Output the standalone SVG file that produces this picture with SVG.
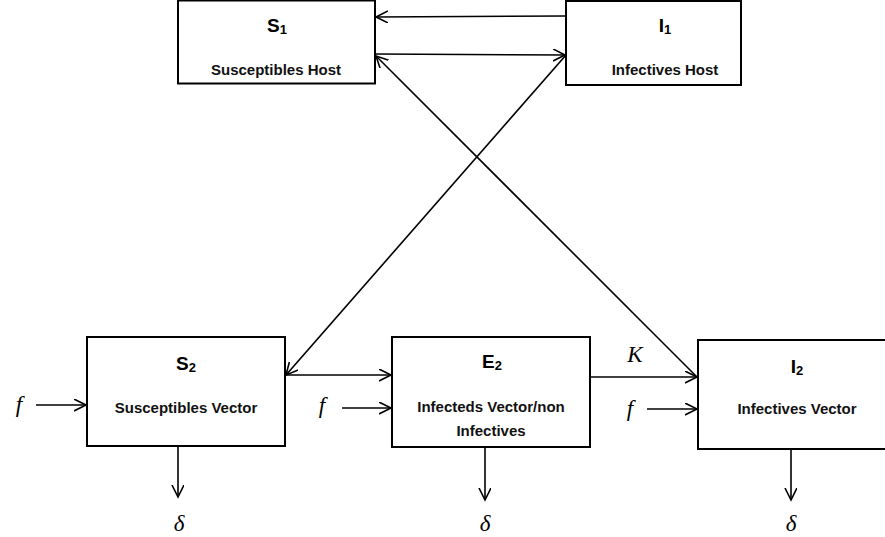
<svg xmlns="http://www.w3.org/2000/svg" width="885" height="537" viewBox="0 0 885 537">
<style>
.box{fill:#fff;stroke:#000;stroke-width:2}
.t{font-family:"Liberation Sans",Arial,sans-serif;font-weight:bold;font-size:15px;text-anchor:middle;fill:#111}
.h{font-family:"Liberation Sans",Arial,sans-serif;font-weight:bold;font-size:19px;text-anchor:middle;fill:#000}
.sub{font-size:13px}
.m{font-family:"Liberation Serif","Times New Roman",serif;font-style:italic;font-size:23px;text-anchor:middle;fill:#000}
.c{fill:none;stroke:#000;stroke-width:1.6;marker-end:url(#ah)}
</style>
<defs>
<marker id="ah" markerUnits="userSpaceOnUse" markerWidth="14" markerHeight="14" refX="12" refY="6" orient="auto">
<path d="M0,0 L12,6 L0,12" fill="none" stroke="#000" stroke-width="1.6"/>
</marker>
</defs>
<rect width="885" height="537" fill="#fff"/>
<g id="S1">
<rect class="box" x="178" y="0.5" width="197" height="83"/>
<text class="h" x="277" y="32">S<tspan class="sub" dy="2">1</tspan></text>
<text class="t" x="276" y="75">Susceptibles Host</text>
</g>
<g id="I1">
<rect class="box" x="566" y="1" width="175" height="84"/>
<text class="h" x="665" y="32">I<tspan class="sub" dy="2">1</tspan></text>
<text class="t" x="665" y="75">Infectives Host</text>
</g>
<g id="S2">
<rect class="box" x="87" y="337" width="198" height="109"/>
<text class="h" x="186" y="370">S<tspan class="sub" dy="2">2</tspan></text>
<text class="t" x="186" y="413">Susceptibles Vector</text>
</g>
<g id="E2">
<rect class="box" x="392" y="337" width="198" height="110"/>
<text class="h" x="492" y="368">E<tspan class="sub" dy="2">2</tspan></text>
<text class="t" x="491" y="412">Infecteds Vector/non</text>
<text class="t" x="491" y="436">Infectives</text>
</g>
<g id="I2">
<rect class="box" x="698" y="340" width="200" height="109"/>
<text class="h" x="797" y="373">I<tspan class="sub" dy="2">2</tspan></text>
<text class="t" x="797" y="414">Infectives Vector</text>
</g>
<g id="connectors">
<path class="c" d="M566,16 L376,17"/>
<path class="c" d="M375,54 L565,55"/>
<path class="c" d="M697,377 L376,56"/>
<path class="c" d="M566,55 L286,375"/>
<path class="c" d="M285,375 L391,375"/>
<path class="c" d="M590,377 L697,377"/>
<path class="c" d="M36,405 L86,405"/>
<path class="c" d="M342,408 L391,408"/>
<path class="c" d="M647,409 L697,409"/>
<path class="c" d="M178,446 L178,497"/>
<path class="c" d="M485,447 L485,500"/>
<path class="c" d="M791,449 L791,500"/>
</g>
<g id="labels">
<text class="m" x="635" y="362">K</text>
<text class="m" x="19" y="412">f</text>
<text class="m" x="322" y="413">f</text>
<text class="m" x="630" y="416">f</text>
<text class="m" x="179" y="531">δ</text>
<text class="m" x="485" y="531">δ</text>
<text class="m" x="791" y="531">δ</text>
</g>
</svg>
